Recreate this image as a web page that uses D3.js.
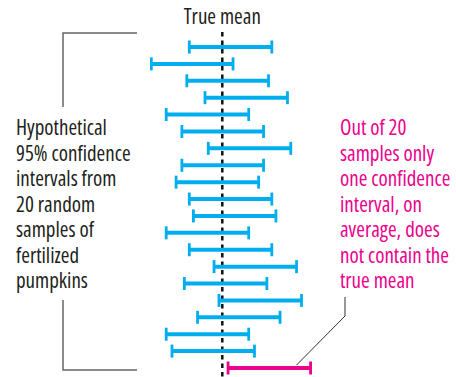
<!DOCTYPE html>
<html>
<head>
<meta charset="utf-8">
<script src="https://cdn.jsdelivr.net/npm/d3@7"></script>
<style>
  body { margin: 0; background: #fff; }
  svg text { font-family: "Open Sans", sans-serif; font-stretch: 84%; }
</style>
</head>
<body>
<div class="viz"></div>
<script>
// 20 hypothetical 95% confidence intervals, true mean = 50
var samples = d3.range(1, 21);
var lower = [46.0, 41.4, 45.7, 47.9, 43.2, 45.1, 48.3, 45.1, 44.4, 46.0,
             46.5, 43.2, 46.0, 49.0, 45.4, 49.6, 47.0, 43.2, 43.9, 50.7];
var upper = [56.0, 51.3, 55.6, 57.9, 53.2, 55.0, 58.3, 55.0, 54.4, 56.0,
             56.5, 53.2, 56.0, 59.0, 55.4, 59.6, 57.0, 53.2, 53.9, 60.7];
var trueMean = 50;
var leftLabel = ["Hypothetical", "95% confidence", "intervals from", "20 random",
                 "samples of", "fertilized", "pumpkins"];
var rightLabel = ["Out of 20", "samples only", "one confidence", "interval, on",
                  "average, does", "not contain the", "true mean"];

var width = 456, height = 377;
var blue = "#00aeef", pink = "#ec008c";

var data = samples.map((s, i) => ({ sample: s, lo: lower[i], hi: upper[i] }));

var svg = d3.select('.viz')
    .append('svg')
    .attr('width', width)
    .attr('height', height);

var x = d3.scaleLinear()
    .domain([40, 62])
    .range([139.8, 321.3]);

var y = d3.scalePoint()
    .domain(samples)
    .range([47, 368]);

// true mean dashed line
svg.append('line')
    .attr('x1', x(trueMean)).attr('x2', x(trueMean))
    .attr('y1', 32).attr('y2', height)
    .attr('stroke', '#111')
    .attr('stroke-width', 2.5)
    .attr('stroke-dasharray', '4.5,4');

svg.append('text')
    .attr('x', x(trueMean))
    .attr('y', 24)
    .attr('text-anchor', 'middle')
    .attr('font-size', '21px')
    .attr('fill', '#231f20')
    .text('True mean');

// intervals
var ci = svg.selectAll('g.ci')
    .data(data)
    .enter()
    .append('g')
    .attr('class', 'ci')
    .attr('stroke', d => (d.lo > trueMean || d.hi < trueMean) ? pink : blue);

ci.append('line')
    .attr('x1', d => x(d.lo)).attr('x2', d => x(d.hi))
    .attr('y1', d => y(d.sample)).attr('y2', d => y(d.sample))
    .attr('stroke-width', 4);

ci.append('line')
    .attr('x1', d => x(d.lo)).attr('x2', d => x(d.lo))
    .attr('y1', d => y(d.sample) - 6.5).attr('y2', d => y(d.sample) + 6.5)
    .attr('stroke-width', 2.8);

ci.append('line')
    .attr('x1', d => x(d.hi)).attr('x2', d => x(d.hi))
    .attr('y1', d => y(d.sample) - 6.5).attr('y2', d => y(d.sample) + 6.5)
    .attr('stroke-width', 2.8);

// left bracket
var bx = 63;
svg.append('path')
    .attr('d', `M137,${y(1) - 14}H${bx}V107 M${bx},300V${y(20) + 2}H137`)
    .attr('fill', 'none')
    .attr('stroke', '#666')
    .attr('stroke-width', 1.5);

svg.append('text')
    .attr('font-size', '21px')
    .attr('fill', '#231f20')
    .selectAll('tspan')
    .data(leftLabel)
    .enter()
    .append('tspan')
    .attr('x', 16)
    .attr('y', (d, i) => 135 + i * 25.5)
    .text(d => d);

// right annotation
svg.append('text')
    .attr('font-size', '21px')
    .attr('fill', pink)
    .selectAll('tspan')
    .data(rightLabel)
    .enter()
    .append('tspan')
    .attr('x', 340)
    .attr('y', (d, i) => 135 + i * 25.5)
    .text(d => d);

var last = data[data.length - 1];
svg.append('path')
    .attr('d', `M345,297V316L${x(last.hi) - 14},${y(last.sample) - 3}`)
    .attr('fill', 'none')
    .attr('stroke', '#333')
    .attr('stroke-width', 1);
</script>
</body>
</html>
